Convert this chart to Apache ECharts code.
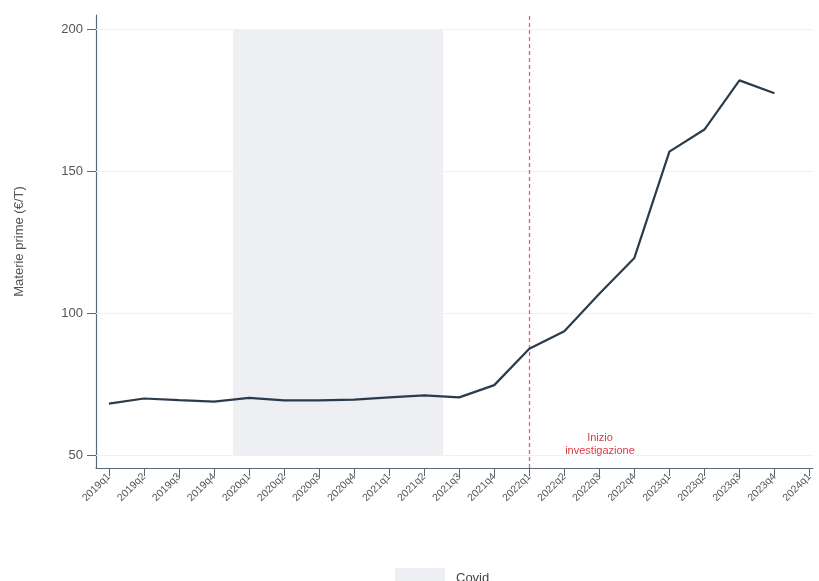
<!DOCTYPE html>
<html>
<head>
<meta charset="utf-8">
<script src="https://cdn.jsdelivr.net/npm/echarts@6/dist/echarts.min.js"></script>
<style>html,body{margin:0;padding:0;background:#fff}#c{width:819px;height:581px}</style>
</head>
<body>
<div id="c"></div>
<script>
const categories = ['2019q1','2019q2','2019q3','2019q4','2020q1','2020q2','2020q3','2020q4','2021q1','2021q2','2021q3','2021q4','2022q1','2022q2','2022q3','2022q4','2023q1','2023q2','2023q3','2023q4','2024q1'];
const values = [68.1, 69.9, 69.3, 68.8, 70.1, 69.2, 69.2, 69.5, 70.3, 71.0, 70.3, 74.6, 87.4, 93.6, 106.8, 119.4, 156.8, 164.6, 181.9, 177.4, null];
const yTicks = [50, 100, 150, 200];
const covidStart = 3.54, covidEnd = 9.54;   // shaded Covid band, in quarter index
const investigationIndex = 12;              // 2022q1

const chart = echarts.init(document.getElementById('c'));
const tickIdx = categories.map((_, i) => i);
const axisCol = '#5a6878';
const font = 'Liberation Sans, Arial';
chart.setOption({
  animation: false,
  grid: { left: 96, right: 6, top: 15, bottom: 113 },
  xAxis: {
    type: 'value', min: -0.37, max: 20.1,
    axisLine: { show: true, onZero: false, lineStyle: { color: axisCol, width: 1.2 } },
    axisTick: { show: true, length: 8, customValues: tickIdx, lineStyle: { color: axisCol } },
    axisLabel: { customValues: tickIdx, rotate: 45, fontSize: 10.5, color: '#555', fontFamily: font,
      formatter: v => categories[Math.round(v)] || '', margin: 7 },
    splitLine: { show: false }
  },
  yAxis: {
    type: 'value', min: 45.42, max: 204.93,
    name: 'Materie prime (€/T)', nameLocation: 'middle', nameGap: 70,
    nameTextStyle: { fontSize: 13, color: '#555', fontFamily: font },
    axisLine: { show: true, onZero: false, lineStyle: { color: axisCol, width: 1.2 } },
    axisTick: { show: true, length: 9, customValues: yTicks, lineStyle: { color: axisCol } },
    axisLabel: { customValues: yTicks, fontSize: 13, color: '#555', fontFamily: font, margin: 13 },
    splitLine: { show: false }
  },
  legend: {
    data: [{ name: 'Covid', icon: 'rect' }],
    left: 390, top: 563, itemWidth: 50, itemHeight: 20,
    textStyle: { fontSize: 13, color: '#444', fontFamily: font, padding: [0, 0, 0, 6] }
  },
  series: [
    {
      name: 'Covid', type: 'bar', data: [],
      itemStyle: { color: '#eeeff2' }
    },
    {
      name: 'grid', type: 'line', data: [], silent: true,
      markLine: {
        silent: true, symbol: 'none', label: { show: false },
        lineStyle: { color: '#f1f1f1', type: 'solid', width: 1 },
        data: yTicks.map(t => ({ yAxis: t }))
      }
    },
    {
      name: 'Materie prime', type: 'line',
      data: values.map((v, i) => [i, v]),
      showSymbol: false, symbol: 'none',
      lineStyle: { color: '#2c3b4b', width: 2.2 },
      z: 5,
      markArea: {
        silent: true,
        itemStyle: { color: '#eeeff2' },
        data: [[{ xAxis: covidStart, yAxis: 50 }, { xAxis: covidEnd, yAxis: 200 }]]
      },
      markLine: {
        silent: true, symbol: 'none', label: { show: false },
        lineStyle: { color: '#e8606a', type: [4, 3], width: 1.3, opacity: 1 },
        emphasis: { disabled: true },
        data: [{ xAxis: investigationIndex }]
      }
    }
  ],
  graphic: [{
    type: 'text', x: 600, y: 431, z: 10,
    style: { text: 'Inizio\ninvestigazione', fill: '#d63a48', fontSize: 11, align: 'center', textAlign: 'center',
      lineHeight: 13, fontFamily: font }
  }]
});
</script>
</body>
</html>
